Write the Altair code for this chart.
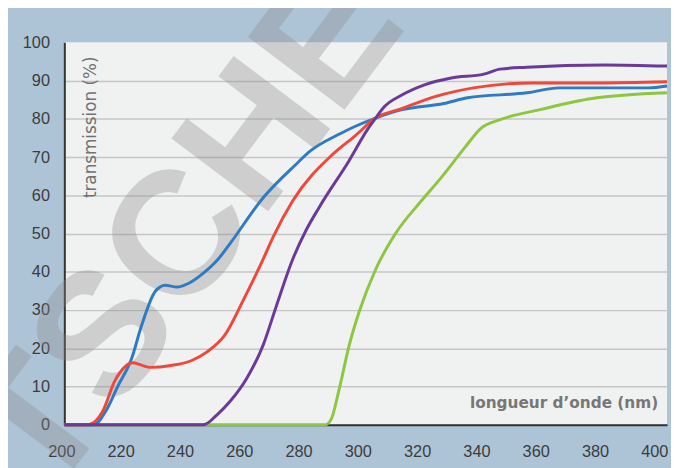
import altair as alt
import pandas as pd

# ---- data ----
blue_nm = [200, 210, 214, 218, 222.7, 226, 230.7, 234, 238, 242, 247, 252, 256, 267, 278, 283, 293, 298, 305, 314, 328, 336, 356, 367, 386, 397, 403.3]
blue_t = [0, 0, 3.6, 10, 17.3, 25.8, 34.9, 36.5, 36, 37, 39.7, 43.4, 47.5, 59.3, 68, 71.6, 76.1, 78, 80.2, 82.4, 84, 85.5, 86.8, 88.1, 88.1, 88.1, 88.6]

red_nm = [200, 208, 213, 217, 220.5, 223, 226, 229, 236, 243, 248, 254, 260.5, 267, 270.5, 277, 290.5, 298, 305, 314, 325, 338, 358, 380, 403.3]
red_t = [0, 0, 3.6, 11.4, 15.2, 16.2, 15.6, 15.0, 15.5, 16.8, 19, 23.3, 32.8, 43.2, 49.2, 58.5, 70.7, 75.5, 80.2, 82.7, 85.8, 88.1, 89.4, 89.4, 89.7]

purple_nm = [200, 247, 251.5, 256, 261.5, 267, 271.5, 277, 281.5, 286, 296, 302.5, 305, 308, 314, 321.5, 330.5, 341.5, 347, 356, 382.5, 403.3]
purple_t = [0, 0, 2.6, 6.2, 12.1, 20.7, 31, 43.2, 50.8, 56.9, 69, 77.5, 80.2, 83.2, 86.3, 88.9, 90.7, 91.7, 93, 93.5, 94.1, 93.8]

green_nm = [200, 288, 290, 292.8, 296.1, 299.4, 305, 311.7, 320.6, 327.2, 335, 340.6, 347, 360.5, 378, 403.3]
green_t = [0, 0, 1.4, 9.6, 20.8, 29.4, 40.6, 50, 58.7, 64.7, 72.4, 77.6, 79.8, 82.4, 85.3, 86.8]

x_ticks = [200, 220, 240, 260, 280, 300, 320, 340, 360, 380, 400]
y_ticks = [0, 10, 20, 30, 40, 50, 60, 70, 80, 90, 100]

series = [
    ("green", green_nm, green_t, "#8dc641"),
    ("blue", blue_nm, blue_t, "#2e7bc4"),
    ("red", red_nm, red_t, "#f0473c"),
    ("purple", purple_nm, purple_t, "#6b3a98"),
]

frames = []
for name, xs, ys, _c in series:
    frames.append(pd.DataFrame({"nm": xs, "T": ys, "s": name}))
df = pd.concat(frames, ignore_index=True)

x_enc = alt.X(
    "nm:Q",
    scale=alt.Scale(domain=[200, 403.3], nice=False, zero=False),
    axis=alt.Axis(
        values=x_ticks, title=None, grid=False, ticks=False,
        domainColor="#333333", domainWidth=2,
        labelFont="Liberation Sans", labelFontSize=16.5, labelColor="#3c3c3c",
        labelPadding=19, labelOffset=-3, labelFlush=False,
    ),
)
y_enc = alt.Y(
    "T:Q",
    scale=alt.Scale(domain=[0, 100], nice=False),
    axis=alt.Axis(
        values=y_ticks, title=None, ticks=False,
        domainColor="#333333", domainWidth=2,
        grid=True,
        gridColor=alt.condition("datum.value == 100", alt.value("transparent"), alt.value("#c6c6c6")),
        gridWidth=1.5,
        labelFont="Liberation Sans", labelFontSize=16.5, labelColor="#3c3c3c",
        labelPadding=15,
    ),
)

base = alt.Chart(df)

watermark = alt.Chart(pd.DataFrame({"t": ["TSCHE"]})).mark_text(
    font="Liberation Sans", fontWeight="bold", fontSize=178, angle=307,
    color="#888888", opacity=0.32, align="center", baseline="middle",
).encode(text="t:N", x=alt.value(124), y=alt.value(192))

layers = [watermark]
for name, xs, ys, c in series:
    layers.append(
        base.transform_filter(alt.datum.s == name)
        .mark_line(color=c, strokeWidth=3, interpolate="monotone")
        .encode(x=x_enc, y=y_enc)
    )

ylab = alt.Chart(pd.DataFrame({"t": ["transmission (%)"]})).mark_text(
    font="DejaVu Sans", fontSize=17, angle=270, color="#727272",
    align="center", baseline="middle",
).encode(text="t:N", x=alt.value(27), y=alt.value(86))

xlab = alt.Chart(pd.DataFrame({"t": ["longueur d\u2019onde (nm)"]})).mark_text(
    font="DejaVu Sans", fontWeight="bold", fontSize=15.5, color="#777777",
    align="right", baseline="alphabetic",
).encode(text="t:N", x=alt.value(601), y=alt.value(370))

chart = alt.layer(*layers, ylab, xlab).properties(
    width=610, height=387,
    background="#adc4d6",
    padding={"left": 57, "top": 32, "right": 4, "bottom": 41},
    autosize=alt.AutoSizeParams(type="none"),
).configure_view(fill="#f0f1f1", stroke=None)

chart.save("out.html", embed_options={"renderer": "svg", "actions": False})
